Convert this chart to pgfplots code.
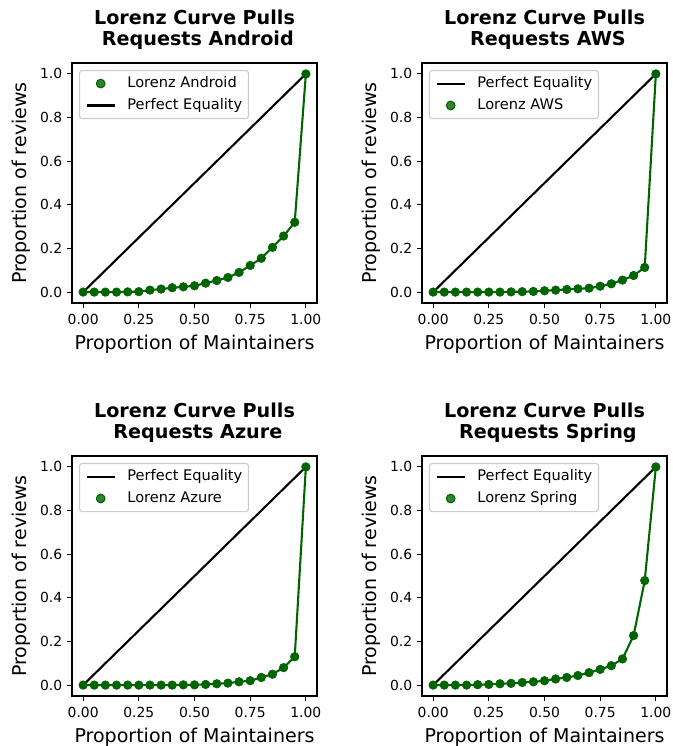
\documentclass[border=0pt]{standalone}
\usepackage{fontspec}
\setmainfont{DejaVu Sans}
\usepackage{pgfplots}
\pgfplotsset{compat=1.18}
\usepackage{pgfplotstable}
\definecolor{lgreen}{RGB}{0,100,0}

\pgfplotstableread{
x y
0.00 0.000
0.05 0.000
0.10 0.000
0.15 0.000
0.20 0.001
0.25 0.002
0.30 0.009
0.35 0.014
0.40 0.020
0.45 0.024
0.50 0.029
0.55 0.041
0.60 0.053
0.65 0.067
0.70 0.090
0.75 0.122
0.80 0.155
0.85 0.205
0.90 0.257
0.95 0.320
1.00 1.000
}\android

\pgfplotstableread{
x y
0.00 0.000
0.05 0.000
0.10 0.000
0.15 0.000
0.20 0.000
0.25 0.000
0.30 0.000
0.35 0.001
0.40 0.002
0.45 0.003
0.50 0.006
0.55 0.009
0.60 0.012
0.65 0.015
0.70 0.018
0.75 0.027
0.80 0.038
0.85 0.055
0.90 0.076
0.95 0.113
1.00 1.000
}\aws

\pgfplotstableread{
x y
0.00 0.000
0.05 0.000
0.10 0.000
0.15 0.000
0.20 0.000
0.25 0.000
0.30 0.000
0.35 0.000
0.40 0.000
0.45 0.001
0.50 0.001
0.55 0.003
0.60 0.006
0.65 0.009
0.70 0.015
0.75 0.020
0.80 0.035
0.85 0.050
0.90 0.080
0.95 0.130
1.00 1.000
}\azure

\pgfplotstableread{
x y
0.00 0.000
0.05 0.000
0.10 0.000
0.15 0.000
0.20 0.002
0.25 0.003
0.30 0.006
0.35 0.008
0.40 0.012
0.45 0.015
0.50 0.020
0.55 0.028
0.60 0.035
0.65 0.044
0.70 0.057
0.75 0.072
0.80 0.089
0.85 0.120
0.90 0.227
0.95 0.479
1.00 1.000
}\spring

\pgfplotstableread{
x y
0 0
1 1
}\equality

\pgfplotsset{
  lorenz/.style={
    scale only axis, width=176.4pt, height=172.8pt,
    xmin=-0.05, xmax=1.05, ymin=-0.05, ymax=1.05,
    xtick={0,0.25,0.5,0.75,1}, xticklabels={0.00,0.25,0.50,0.75,1.00},
    ytick={0,0.2,0.4,0.6,0.8,1}, yticklabels={0.0,0.2,0.4,0.6,0.8,1.0},
    /pgf/number format/assume math mode=true,
    tick align=outside, major tick length=3.5pt,
    tick style={line width=0.8pt, black},
    axis line style={line width=0.8pt},
    xtick pos=left, ytick pos=left,
    ticklabel style={font=\fontsize{10}{12}\selectfont},
    xticklabel style={yshift=-1pt},
    label style={font=\fontsize{13.7}{16.4}\selectfont},
    xlabel style={yshift=-0.3pt},
    xlabel={Proportion of Maintainers},
    ylabel={Proportion of reviews},
    title style={font=\bfseries\fontsize{13.8}{15.4}\selectfont, align=center, inner sep=0pt, yshift=3.5pt},
    legend cell align=left,
    legend style={at={(0,1)}, anchor=north west, xshift=5pt, yshift=-5pt,
      draw=black!20, line width=0.8pt, rounded corners=2pt, fill=white, fill opacity=0.8, text opacity=1,
      font=\fontsize{10.5}{12.6}\selectfont, inner xsep=4.5pt, inner ysep=4pt,
      nodes={inner sep=0pt, text height=8.2pt, text depth=2.6pt},
      row sep=5pt,
      /tikz/every odd column/.append style={column sep=8.5pt}},
  },
  eqline/.style={black, line width=1.5pt,
    legend image code/.code={\draw[black, line width=1.5pt] (0pt,0pt) -- (20pt,0pt);}},
  lcurve/.style={lgreen, line width=1.5pt, forget plot},
  lmarks/.style={only marks, mark=*, mark size=3.1pt, draw=lgreen, fill=lgreen,
    legend image code/.code={\fill[lgreen] (10pt,0pt) circle (3.1pt);}},
}

\begin{document}
\begin{tikzpicture}
\useasboundingbox (0,0) rectangle (483.84pt,-537.12pt);

% top left: Android
\begin{axis}[lorenz, at={(51.84pt,-45.36pt)}, anchor=north west,
  title={Lorenz Curve Pulls\\\hspace*{0.35em}Requests Android}]
\addplot[lcurve] table {\android};
\addplot[lmarks] table {\android};
\addlegendentry{Lorenz Android}
\addplot[eqline] table {\equality};
\addlegendentry{Perfect Equality}
\end{axis}

% top right: AWS
\begin{axis}[lorenz, at={(303.84pt,-45.36pt)}, anchor=north west,
  title={Lorenz Curve Pulls\\\hspace*{0.35em}Requests AWS}]
\addplot[eqline] table {\equality};
\addlegendentry{Perfect Equality}
\addplot[lcurve] table {\aws};
\addplot[lmarks] table {\aws};
\addlegendentry{Lorenz AWS}
\end{axis}

% bottom left: Azure
\begin{axis}[lorenz, at={(51.84pt,-328.32pt)}, anchor=north west,
  title={Lorenz Curve Pulls\\\hspace*{0.35em}Requests Azure}]
\addplot[eqline] table {\equality};
\addlegendentry{Perfect Equality}
\addplot[lcurve] table {\azure};
\addplot[lmarks] table {\azure};
\addlegendentry{Lorenz Azure}
\end{axis}

% bottom right: Spring
\begin{axis}[lorenz, at={(303.84pt,-328.32pt)}, anchor=north west,
  title={Lorenz Curve Pulls\\\hspace*{0.35em}Requests Spring}]
\addplot[eqline] table {\equality};
\addlegendentry{Perfect Equality}
\addplot[lcurve] table {\spring};
\addplot[lmarks] table {\spring};
\addlegendentry{Lorenz Spring}
\end{axis}
\end{tikzpicture}
\end{document}
